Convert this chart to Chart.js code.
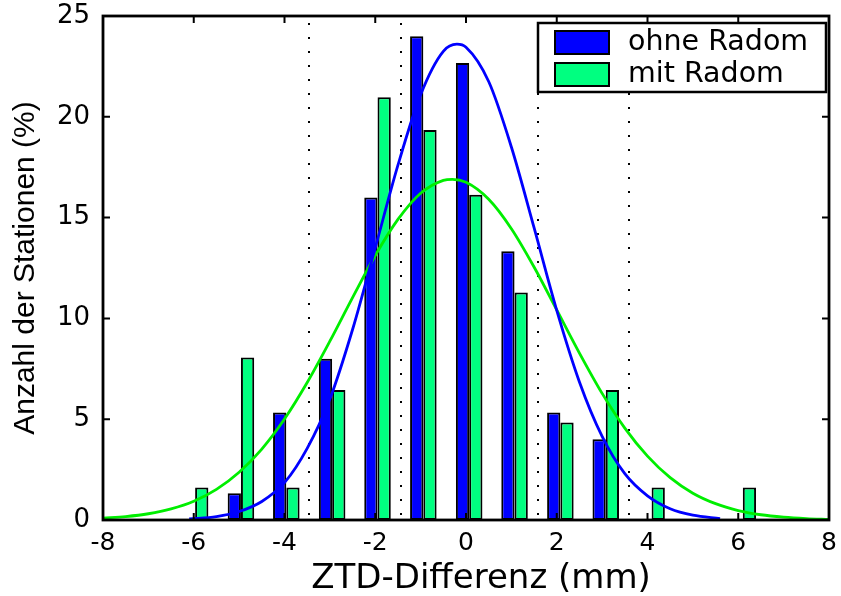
<!DOCTYPE html>
<html>
<head>
<meta charset="utf-8">
<script src="https://cdn.jsdelivr.net/npm/chart.js@4.4.0/dist/chart.umd.min.js"></script>
<style>
  body { margin: 0; background: #fff; }
  #wrap { width: 841px; height: 596px; }
</style>
</head>
<body>
<div id="wrap"><canvas id="myChart"></canvas></div>
<script>
// histogram bins (mm) and percent of stations
const binCenters = [-5.97, -4.96, -3.96, -2.95, -1.95, -0.94, 0.07, 1.07, 2.08, 3.08, 4.09, 5.09, 6.10];
const ohneRadom = [null, 1.33, 5.33, 8.0, 16.0, 24.0, 22.67, 13.33, 5.33, 4.0, null, null, null];
const mitRadom  = [1.61, 8.06, 1.61, 6.45, 20.97, 19.35, 16.13, 11.29, 4.84, 6.45, 1.61, null, 1.61];

// fitted normal curves
const fitOhneX = [-6.1, -5.5, -5, -4.5, -4, -3.5, -3, -2.5, -2, -1.5, -1, -0.5, -0.2, 0, 0.5, 1, 1.5, 2, 2.5, 3, 3.5, 4, 4.5, 5, 5.6];
const fitOhneY = [0.05, 0.17, 0.42, 0.92, 1.85, 3.55, 6.0, 9.45, 13.5, 17.6, 21.1, 23.25, 23.6, 23.45, 21.75, 18.5, 14.5, 10.4, 6.85, 4.15, 2.3, 1.2, 0.56, 0.24, 0.07];
const fitMitX = [-8, -7.5, -7, -6.5, -6, -5.5, -5, -4.5, -4, -3.5, -3, -2.5, -2, -1.5, -1, -0.5, -0.3, 0, 0.5, 1, 1.5, 2, 2.5, 3, 3.5, 4, 4.5, 5, 5.5, 6, 6.5, 7, 7.5, 8];
const fitMitY = [0.09, 0.17, 0.31, 0.55, 0.93, 1.52, 2.37, 3.52, 5.01, 6.82, 8.87, 11.03, 13.12, 14.91, 16.21, 16.85, 16.9, 16.75, 15.91, 14.45, 12.55, 10.42, 8.28, 6.28, 4.56, 3.17, 2.10, 1.33, 0.81, 0.47, 0.26, 0.14, 0.07, 0.03];

const xTicks = [-8, -6, -4, -2, 0, 2, 4, 6, 8];
const yTicks = [0, 5, 10, 15, 20, 25];
const dottedX = [-3.45, -1.43, 1.59, 3.59];

const BLUE = '#0000ff';
const BAR_GREEN = '#00ff80';
const LINE_GREEN = '#00ee00';
const X_TITLE = 'ZTD-Differenz (mm)';

Chart.defaults.font.family = "'DejaVu Sans', sans-serif";
Chart.defaults.color = '#000';

const matlabBox = {
  id: 'matlabBox',
  beforeDatasetsDraw(chart) {
    const { ctx, chartArea: a, scales: { x } } = chart;
    ctx.save();
    ctx.strokeStyle = '#000';
    ctx.lineWidth = 2;
    ctx.setLineDash([2, 12]);
    dottedX.forEach(function (v) {
      const px = Math.round(x.getPixelForValue(v));
      ctx.beginPath();
      ctx.moveTo(px, a.top + 7);
      ctx.lineTo(px, a.bottom);
      ctx.stroke();
    });
    ctx.restore();
  },
  afterDatasetsDraw(chart) {
    const { ctx, chartArea: a, scales: { x, y } } = chart;
    const tl = 7;
    ctx.save();
    ctx.strokeStyle = '#000';
    ctx.lineWidth = 2;
    ctx.beginPath();
    xTicks.forEach(function (v) {
      const px = x.getPixelForValue(v);
      ctx.moveTo(px, a.bottom); ctx.lineTo(px, a.bottom - tl);
      ctx.moveTo(px, a.top); ctx.lineTo(px, a.top + tl);
    });
    yTicks.forEach(function (v) {
      const py = y.getPixelForValue(v);
      ctx.moveTo(a.left, py); ctx.lineTo(a.left + tl, py);
      ctx.moveTo(a.right, py); ctx.lineTo(a.right - tl, py);
    });
    ctx.stroke();
    ctx.lineWidth = 2.8;
    ctx.strokeRect(a.left, a.top, a.right - a.left, a.bottom - a.top);

    // x axis title (sits a little right of the axis centre in the original)
    ctx.font = "34px 'DejaVu Sans'";
    ctx.fillStyle = '#000';
    ctx.textAlign = 'center';
    ctx.textBaseline = 'alphabetic';
    ctx.fillText(X_TITLE, (a.left + a.right) / 2 + 15, a.bottom + 68);
    ctx.restore();
  },
  afterDraw(chart) {
    // legend box in the upper right corner of the axes
    const { ctx, chartArea: a } = chart;
    const bx = a.right - 291, by = a.top + 7, bw = 288, bh = 69;
    ctx.save();
    ctx.fillStyle = '#fff';
    ctx.fillRect(bx, by, bw, bh);
    ctx.strokeStyle = '#000';
    ctx.lineWidth = 2.5;
    ctx.strokeRect(bx, by, bw, bh);
    const items = chart.data.datasets.filter(d => d.type === 'bar');
    ctx.font = "28.5px 'DejaVu Sans'";
    ctx.textBaseline = 'middle';
    items.forEach(function (d, i) {
      const sy = by + 8 + i * 32;
      ctx.fillStyle = d.backgroundColor;
      ctx.fillRect(bx + 17, sy, 54, 23);
      ctx.lineWidth = 2;
      ctx.strokeRect(bx + 17, sy, 54, 23);
      ctx.fillStyle = '#000';
      ctx.fillText(d.label, bx + 90, sy + 12);
    });
    ctx.restore();
  }
};

const ctx = document.getElementById('myChart').getContext('2d');
const myChart = new Chart(ctx, {
  type: 'bar',
  data: {
    datasets: [
      {
        type: 'bar',
        label: 'ohne Radom',
        data: binCenters.map((c, i) => ({ x: c, y: ohneRadom[i] })),
        backgroundColor: BLUE,
        borderColor: '#000',
        borderWidth: 2,
        borderSkipped: false,
        categoryPercentage: 0.585,
        barPercentage: 1.0,
        order: 1
      },
      {
        type: 'bar',
        label: 'mit Radom',
        data: binCenters.map((c, i) => ({ x: c, y: mitRadom[i] })),
        backgroundColor: BAR_GREEN,
        borderColor: '#000',
        borderWidth: 2,
        borderSkipped: false,
        categoryPercentage: 0.585,
        barPercentage: 1.0,
        order: 1
      },
      {
        type: 'line',
        label: 'Normalverteilung ohne Radom',
        data: fitOhneX.map((v, i) => ({ x: v, y: fitOhneY[i] })),
        borderColor: BLUE,
        borderWidth: 2.8,
        pointRadius: 0,
        cubicInterpolationMode: 'monotone',
        order: 0
      },
      {
        type: 'line',
        label: 'Normalverteilung mit Radom',
        data: fitMitX.map((v, i) => ({ x: v, y: fitMitY[i] })),
        borderColor: LINE_GREEN,
        borderWidth: 2.8,
        pointRadius: 0,
        cubicInterpolationMode: 'monotone',
        order: 0
      }
    ]
  },
  options: {
    responsive: true,
    maintainAspectRatio: false,
    animation: false,
    layout: { padding: { top: 16, right: 12, left: 0, bottom: 0 } },
    plugins: {
      legend: { display: false },
      tooltip: { enabled: false }
    },
    scales: {
      x: {
        type: 'linear',
        min: -8,
        max: 8,
        offset: false,
        grid: { display: false, drawTicks: false },
        border: { display: false },
        afterBuildTicks: function (scale) { scale.ticks = xTicks.map(v => ({ value: v })); },
        afterFit: function (scale) {
          scale.height = 76;
          scale.paddingLeft = 0;
          scale.paddingRight = 0;
        },
        ticks: { font: { size: 25 }, padding: 8, maxRotation: 0 }
      },
      y: {
        min: 0,
        max: 25,
        grid: { display: false, drawTicks: false },
        border: { display: false },
        afterBuildTicks: function (scale) { scale.ticks = yTicks.map(v => ({ value: v })); },
        afterFit: function (scale) {
          scale.width = 103;
          scale.paddingTop = 0;
          scale.paddingBottom = 0;
        },
        ticks: { font: { size: 26 }, padding: 13 },
        title: {
          display: true,
          text: 'Anzahl der Stationen (%)',
          font: { size: 30, family: "'Liberation Sans', Arial, sans-serif" },
          padding: { top: 8, bottom: 0 }
        }
      }
    }
  },
  plugins: [matlabBox]
});
</script>
</body>
</html>
